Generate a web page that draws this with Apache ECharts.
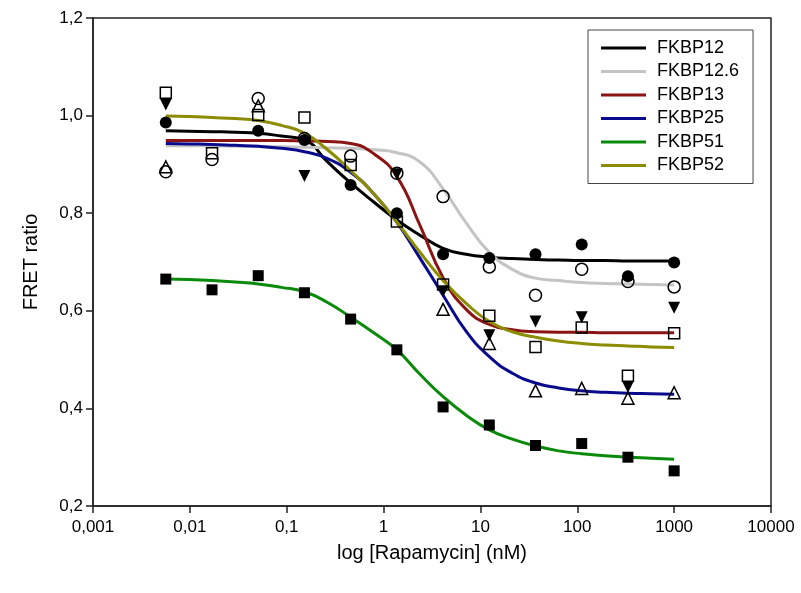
<!DOCTYPE html>
<html>
<head>
<meta charset="utf-8">
<script src="https://cdn.jsdelivr.net/npm/echarts@6/dist/echarts.min.js"></script>
<style>
html, body { margin: 0; padding: 0; background: #fff; }
#chart { width: 801px; height: 593px; }
</style>
</head>
<body>
<div id="chart"></div>
<script>
// Rapamycin concentrations of the measured points (nM), 3-fold dilution
var doseX = [0.005645, 0.01694, 0.0508, 0.1524, 0.4572, 1.372, 4.115, 12.35, 37.04, 111.1, 333.3, 1000];

// measured FRET ratios (null = hidden / not visible)
var ptFKBP12 = [0.986, null, 0.969, 0.950, 0.858, 0.800, 0.716, 0.708, 0.716, 0.736, 0.671, 0.699];
var ptFKBP126 = [0.885, 0.910, 1.035, 0.953, 0.917, 0.882, 0.834, 0.690, 0.632, 0.685, 0.660, 0.649];
var ptFKBP13 = [1.023, null, null, 0.876, null, 0.880, 0.640, 0.550, 0.578, 0.587, 0.444, 0.606];
var ptFKBP25 = [0.895, null, 1.020, null, null, null, 0.603, 0.533, 0.436, 0.441, 0.421, 0.432];
var ptFKBP51 = [0.665, 0.643, 0.672, 0.637, 0.583, 0.520, 0.403, 0.366, 0.324, 0.328, 0.300, 0.272];
var ptFKBP52 = [1.047, 0.923, 1.001, 0.996, 0.899, 0.783, 0.654, 0.590, 0.526, 0.566, 0.467, 0.554];

// fitted curves at half-dilution steps
var curveX = [0.005645, 0.00978, 0.01694, 0.02933, 0.0508, 0.088, 0.1524, 0.264, 0.4572, 0.792, 1.372, 2.376,
    4.115, 7.128, 12.35, 21.38, 37.04, 64.15, 111.1, 192.5, 333.3, 577.4, 1000];
var fitFKBP12 = [0.969, 0.968, 0.967, 0.966, 0.964, 0.958, 0.950, 0.905, 0.862, 0.823, 0.786, 0.755,
    0.728, 0.716, 0.710, 0.707, 0.705, 0.704, 0.703, 0.703, 0.702, 0.702, 0.702];
var fitFKBP126 = [0.938, 0.938, 0.938, 0.937, 0.937, 0.936, 0.935, 0.934, 0.933, 0.930, 0.924, 0.905,
    0.850, 0.780, 0.720, 0.685, 0.667, 0.662, 0.658, 0.656, 0.655, 0.654, 0.653];
var fitFKBP13 = [0.949, 0.949, 0.949, 0.949, 0.949, 0.949, 0.948, 0.947, 0.943, 0.922, 0.875, 0.775,
    0.668, 0.603, 0.572, 0.561, 0.557, 0.556, 0.556, 0.555, 0.555, 0.555, 0.555];
var fitFKBP25 = [0.943, 0.942, 0.941, 0.939, 0.937, 0.933, 0.926, 0.912, 0.884, 0.840, 0.781, 0.708,
    0.632, 0.558, 0.506, 0.472, 0.452, 0.442, 0.436, 0.433, 0.431, 0.430, 0.429];
var fitFKBP51 = [0.665, 0.664, 0.662, 0.659, 0.655, 0.648, 0.639, 0.617, 0.587, 0.555, 0.520, 0.470,
    0.424, 0.386, 0.356, 0.337, 0.323, 0.313, 0.307, 0.303, 0.300, 0.298, 0.296];
var fitFKBP52 = [0.999, 0.998, 0.996, 0.994, 0.990, 0.980, 0.964, 0.930, 0.887, 0.840, 0.782, 0.720,
    0.662, 0.615, 0.578, 0.557, 0.546, 0.538, 0.533, 0.530, 0.528, 0.526, 0.525];

var names = ['FKBP12', 'FKBP12.6', 'FKBP13', 'FKBP25', 'FKBP51', 'FKBP52'];
var xTickLabels = ['0,001', '0,01', '0,1', '1', '10', '100', '1000', '10000'];
var yTickLabels = ['0,2', '0,4', '0,6', '0,8', '1,0', '1,2'];

var colors = ['#000000', '#c4c4c4', '#8b1414', '#0a0a8c', '#0a8a0a', '#8c8c00'];
var fits = [fitFKBP12, fitFKBP126, fitFKBP13, fitFKBP25, fitFKBP51, fitFKBP52];
var points = [ptFKBP12, ptFKBP126, ptFKBP13, ptFKBP25, ptFKBP51, ptFKBP52];
// marker per protein: filled circle, open circle, filled down-triangle, open triangle, filled square, open square
var marks = [
    { symbol: 'circle', size: 12, fill: true, rotate: 0 },
    { symbol: 'circle', size: 12, fill: false, rotate: 0 },
    { symbol: 'triangle', size: 12, fill: true, rotate: 180 },
    { symbol: 'triangle', size: 12, fill: false, rotate: 0 },
    { symbol: 'rect', size: 11, fill: true, rotate: 0 },
    { symbol: 'rect', size: 11, fill: false, rotate: 0 }
];

var font = 'Liberation Sans, Arial, Helvetica, sans-serif';

function pairs(xs, ys) {
    var out = [];
    for (var i = 0; i < xs.length; i++) {
        if (ys[i] !== null) out.push([xs[i], ys[i]]);
    }
    return out;
}

var series = [];
// 拟合曲线
for (var i = 0; i < names.length; i++) {
    series.push({
        name: names[i],
        type: 'line',
        smooth: true,
        symbol: 'none',
        z: 2,
        lineStyle: { color: colors[i], width: 3 },
        itemStyle: { color: colors[i] },
        data: pairs(curveX, fits[i])
    });
}
// 测量点
for (var j = 0; j < names.length; j++) {
    var m = marks[j];
    series.push({
        name: names[j] + ' data',
        type: 'scatter',
        symbol: m.symbol,
        symbolSize: m.size,
        symbolRotate: m.rotate,
        z: 3,
        itemStyle: m.fill
            ? { color: '#000', opacity: 1 }
            : { color: 'rgba(255,255,255,0)', borderColor: '#000', borderWidth: 1.5, opacity: 1 },
        data: pairs(doseX, points[j])
    });
}

var chart = echarts.init(document.getElementById('chart'));
var option = {
    animation: false,
    backgroundColor: '#fff',
    grid: {
        left: 93, right: 30, top: 18, bottom: 87,
        show: true, borderColor: '#222', borderWidth: 1.5
    },
    legend: {
        data: names,
        icon: 'rect',
        orient: 'vertical',
        left: 588,
        top: 30,
        padding: [9, 14, 9, 13],
        itemWidth: 45,
        itemHeight: 3,
        itemGap: 5.5,
        borderColor: '#444',
        borderWidth: 1,
        backgroundColor: '#fff',
        textStyle: { fontFamily: font, fontSize: 18, color: '#000', padding: [0, 0, 0, 6] }
    },
    xAxis: {
        type: 'log',
        logBase: 10,
        min: 0.001,
        max: 10000,
        name: 'log [Rapamycin] (nM)',
        nameLocation: 'middle',
        nameGap: 37,
        nameTextStyle: { fontFamily: font, fontSize: 20, color: '#000' },
        axisLine: { lineStyle: { color: '#222', width: 1.5 } },
        axisTick: { inside: false, length: 7, lineStyle: { color: '#222', width: 1.5 } },
        minorTick: { show: false },
        splitLine: { show: false },
        axisLabel: {
            fontFamily: font, fontSize: 17, color: '#000', margin: 13,
            formatter: function(v, idx) { return xTickLabels[idx]; }
        }
    },
    yAxis: {
        type: 'value',
        min: 0.2,
        max: 1.2,
        interval: 0.2,
        name: 'FRET ratio',
        nameLocation: 'middle',
        nameGap: 52,
        nameTextStyle: { fontFamily: font, fontSize: 20, color: '#000' },
        axisLine: { show: true, lineStyle: { color: '#222', width: 1.5 } },
        axisTick: { show: true, inside: false, length: 7, lineStyle: { color: '#222', width: 1.5 } },
        splitLine: { show: false },
        axisLabel: {
            fontFamily: font, fontSize: 17, color: '#000', margin: 10,
            formatter: function(v, idx) { return yTickLabels[idx]; }
        }
    },
    series: series
};
chart.setOption(option);
</script>
</body>
</html>
